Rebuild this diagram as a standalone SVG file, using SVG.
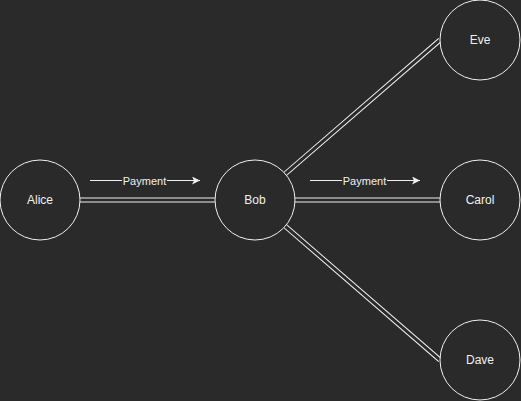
<svg xmlns="http://www.w3.org/2000/svg" width="521" height="401" viewBox="0 0 521 401">
<style>
.node{fill:#2a2a2a;stroke:#f0f0f0;stroke-width:1}
.lbl{font-family:"Liberation Sans",Arial,sans-serif;font-size:12px;fill:#f0f0f0;text-anchor:middle;dominant-baseline:central}
.plbl{font-family:"Liberation Sans",Arial,sans-serif;font-size:11px;fill:#f0f0f0;text-anchor:middle;dominant-baseline:central}
.outer{stroke:#f0f0f0;stroke-width:5;fill:none}
.inner{stroke:#2a2a2a;stroke-width:3;fill:none}
.arrow{stroke:#f0f0f0;stroke-width:1;fill:none}
</style>
<defs>
<marker id="ah" viewBox="0 0 10 10" refX="10" refY="5" markerWidth="8" markerHeight="8" markerUnits="userSpaceOnUse" orient="auto">
<path d="M0,0 L10,5 L0,10 L2.5,5 Z" fill="#f0f0f0"/>
</marker>
</defs>
<rect width="521" height="401" fill="#2a2a2a"/>
<g id="connectors">
<path class="outer" d="M80,200 L215,200 M295,200 L440,200 M285.2,173.8 L440,40 M285.2,226.2 L440,360"/>
<path class="inner" d="M79,200 L216,200 M294,200 L441,200 M284.4,174.5 L441,39.2 M284.4,225.5 L441,360.8"/>
<g id="payment1">
<path class="arrow" d="M90,180.5 L200,180.5" marker-end="url(#ah)"/>
<rect x="122" y="174" width="45" height="13" fill="#2a2a2a"/>
<text class="plbl" x="144.5" y="180.5">Payment</text>
</g>
<g id="payment2">
<path class="arrow" d="M310,180.5 L420,180.5" marker-end="url(#ah)"/>
<rect x="342" y="174" width="45" height="13" fill="#2a2a2a"/>
<text class="plbl" x="364.5" y="180.5">Payment</text>
</g>
</g>
<g id="alice"><circle class="node" cx="40" cy="200" r="40"/><text class="lbl" x="40" y="200">Alice</text></g>
<g id="bob"><circle class="node" cx="255" cy="200" r="40"/><text class="lbl" x="255" y="200">Bob</text></g>
<g id="eve"><circle class="node" cx="480" cy="40" r="40"/><text class="lbl" x="480" y="40">Eve</text></g>
<g id="carol"><circle class="node" cx="480" cy="200" r="40"/><text class="lbl" x="480" y="200">Carol</text></g>
<g id="dave"><circle class="node" cx="480" cy="360" r="40"/><text class="lbl" x="480" y="360">Dave</text></g>
</svg>
